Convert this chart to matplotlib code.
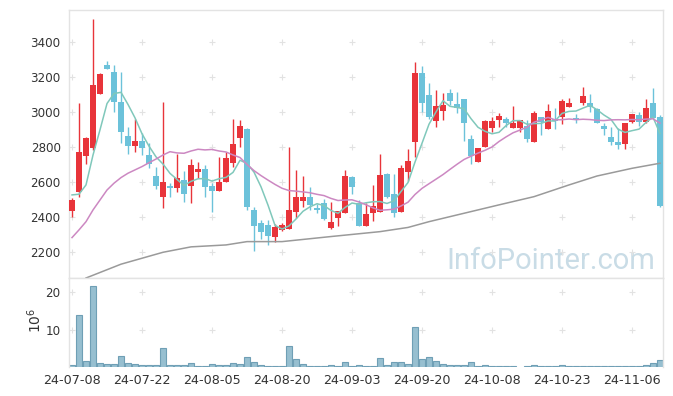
import matplotlib
matplotlib.use('Agg')
import matplotlib.pyplot as plt
from matplotlib import font_manager
import numpy as np

# ---------------- data ----------------
opens = [2436, 2545, 2750, 2796, 3105, 3269, 3229, 3055, 2863, 2807,
         2834, 2754, 2634, 2516, 2575, 2567, 2611, 2579, 2659, 2674,
         2577, 2550, 2598, 2710, 2853, 2903, 2440, 2364, 2354, 2287,
         2326, 2330, 2430, 2493, 2516, 2451, 2478, 2339, 2396, 2425,
         2630, 2478, 2350, 2421, 2430, 2646, 2531, 2430, 2659, 2830,
         3225, 3097, 2950, 3007, 3110, 3046, 3073, 2844, 2716, 2798,
         2907, 2954, 2958, 2910, 2910, 2920, 2830, 2973, 2901, 2960,
         2970, 3030, 2965, 3053, 3053, 3015, 2920, 2855, 2830, 2817,
         2945, 2983, 2945, 3053, 2973]
highs = [2510, 3050, 2859, 3531, 3222, 3291, 3269, 3227, 2916, 2960,
         2878, 2821, 2687, 3055, 2593, 2758, 2665, 2730, 2713, 2697,
         2596, 2741, 2773, 2958, 2954, 2907, 2459, 2383, 2383, 2360,
         2364, 2798, 2669, 2634, 2573, 2474, 2501, 2487, 2434, 2669,
         2635, 2497, 2478, 2583, 2758, 2650, 2646, 2697, 2787, 3287,
         3263, 3164, 3126, 3110, 3130, 3116, 3073, 2869, 2793, 2954,
         2973, 2996, 2973, 3034, 2954, 2954, 3003, 2973, 3046, 3021,
         3073, 3078, 2990, 3141, 3103, 3021, 2935, 2916, 2907, 2935,
         2989, 3002, 3073, 3135, 2980]
lows = [2402, 2516, 2701, 2783, 3105, 3248, 2998, 2821, 2758, 2770,
        2754, 2678, 2560, 2453, 2516, 2541, 2484, 2478, 2621, 2516,
        2430, 2550, 2598, 2687, 2802, 2440, 2206, 2273, 2240, 2259,
        2320, 2330, 2393, 2455, 2440, 2421, 2383, 2330, 2349, 2425,
        2531, 2350, 2350, 2379, 2430, 2510, 2402, 2430, 2607, 2745,
        3002, 2958, 2913, 2954, 3040, 2993, 2836, 2703, 2716, 2798,
        2887, 2916, 2916, 2907, 2887, 2830, 2830, 2869, 2901, 2901,
        2931, 3030, 2935, 3040, 3002, 2939, 2869, 2811, 2787, 2787,
        2939, 2920, 2939, 2964, 2455]
closes = [2497, 2773, 2850, 3154, 3217, 3248, 3059, 2884, 2807, 2834,
          2793, 2705, 2579, 2600, 2568, 2621, 2531, 2697, 2674, 2573,
          2550, 2598, 2735, 2817, 2920, 2459, 2350, 2316, 2293, 2341,
          2354, 2440, 2513, 2514, 2469, 2442, 2387, 2373, 2434, 2634,
          2570, 2350, 2417, 2463, 2640, 2516, 2425, 2682, 2720, 3225,
          3053, 2970, 3034, 3040, 3065, 3021, 2935, 2749, 2793, 2950,
          2950, 2977, 2939, 2935, 2954, 2844, 2996, 2945, 3006, 2950,
          3063, 3053, 2955, 3091, 3027, 2939, 2901, 2830, 2811, 2935,
          2989, 2945, 3021, 2964, 2463]
volume_m = [0.7, 13.9, 1.8, 21.7, 1.3, 1.05, 1.05, 3.2, 1.3, 1.05,
            0.8, 0.8, 0.8, 5.3, 0.8, 0.8, 0.8, 1.3, 0.5, 0.5,
            1.05, 0.8, 0.8, 1.3, 1.05, 2.9, 1.65, 0.8, 0.5, 0.5,
            0.5, 5.8, 2.4, 1.05, 0.5, 0.5, 0.5, 0.8, 0.5, 1.6,
            0.5, 0.8, 0.5, 0.5, 2.6, 0.8, 1.6, 1.6, 1.05, 10.8,
            2.4, 2.9, 1.8, 1.05, 0.8, 0.8, 0.8, 1.6, 0.5, 0.8,
            0.5, 0.5, 0.5, 0.5, 0.0, 0.5, 0.8, 0.5, 0.5, 0.5,
            0.8, 0.5, 0.5, 0.5, 0.5, 0.5, 0.5, 0.5, 0.5, 0.5,
            0.5, 0.5, 0.8, 1.3, 2.1]

# moving-average values before enough in-window history exists
ma5_head = [2526, 2530, 2583, 2754]
ma20_head = [2282, 2326, 2373, 2440, 2497, 2554, 2593, 2625, 2650, 2669,
             2688, 2710, 2731, 2754, 2773, 2766, 2764, 2777, 2787]
ma60_idx = [2, 7, 13, 17, 22, 25, 30, 37, 44, 48, 51, 56, 61, 66, 71, 75, 80, 84]
ma60_val = [2051, 2130, 2198, 2229, 2240, 2259, 2259, 2288, 2316, 2340,
            2373, 2421, 2469, 2516, 2583, 2634, 2678, 2707]

tick_labels = ['24-07-08', '24-07-22', '24-08-05', '24-08-20', '24-09-03',
               '24-09-20', '24-10-08', '24-10-23', '24-11-06']
price_ticks = [2200, 2400, 2600, 2800, 3000, 3200, 3400]
vol_ticks = [10, 20]

# ---------------- styling ----------------
RED = '#e8343a'
BLUE = '#6cc2da'
MA5_C = '#80c8bb'
MA20_C = '#cc88c2'
MA60_C = '#9a9a9a'
VOL_FACE = '#97bfd0'
VOL_EDGE = '#6f9fb5'
FRAME = '#e3e3e3'
TXT = '#333333'

installed = {f.name for f in font_manager.fontManager.ttflist}
WM_FONT = 'Liberation Sans Narrow' if 'Liberation Sans Narrow' in installed else 'Roboto'
WM_SIZE = 27 if WM_FONT == 'Liberation Sans Narrow' else 21

o = np.array(opens, float); h = np.array(highs, float)
l = np.array(lows, float); c = np.array(closes, float)
n = len(c)
x = np.arange(n)

ma5 = list(ma5_head) + [c[i-4:i+1].mean() for i in range(4, n)]
ma20 = list(ma20_head) + [c[i-19:i+1].mean() for i in range(19, n)]

W, H = 673, 396
fig = plt.figure(figsize=(W/100, H/100), dpi=100)
ax = fig.add_axes([69/W, (H-278)/H, 594/W, 268/H])
axv = fig.add_axes([69/W, (H-367)/H, 594/W, 89/H], sharex=ax)

# watermark
ax.text((655-69)/594, (278-269)/268, 'InfoPointer.com', transform=ax.transAxes,
        ha='right', va='baseline', fontsize=WM_SIZE, color='#c9dce6',
        family=WM_FONT, zorder=0)

# grid "+" markers
gx = np.arange(0, n, 10)
for yy in price_ticks:
    ax.plot(gx, [yy]*len(gx), ls='none', marker='+', ms=5, mew=0.8, color='#e2e2e2', zorder=0)
for yy in vol_ticks:
    axv.plot(gx, [yy]*len(gx), ls='none', marker='+', ms=5, mew=0.8, color='#e2e2e2', zorder=0)

# candles
cols = np.where(c >= o, RED, BLUE)
ax.vlines(x, l, h, colors=cols, lw=1.0, zorder=2)
body = np.maximum(np.abs(c - o), 6)
ax.bar(x, body, bottom=np.minimum(o, c), width=0.72, color=cols, linewidth=0, zorder=3)

# moving averages
ax.plot(x, ma5, color=MA5_C, lw=1.1, zorder=4)
ax.plot(x, ma20, color=MA20_C, lw=1.1, zorder=4)
ax.plot(ma60_idx, ma60_val, color=MA60_C, lw=1.1, zorder=4)

ax.set_xlim(-0.43, 84.43)
ax.set_ylim(2051, 3583)
ax.set_yticks(price_ticks)
ax.set_yticklabels([str(v) for v in price_ticks])

# volume
axv.bar(x, volume_m, width=0.85, color=VOL_FACE, edgecolor=VOL_EDGE, linewidth=0.8)
axv.set_ylim(0.25, 23.7)
axv.set_yticks(vol_ticks)
axv.set_yticklabels([str(v) for v in vol_ticks])
axv.set_xticks(gx)
axv.set_xticklabels(tick_labels)
fig.text(35/W, 1 - 320/H, r'$10^6$', rotation=90, ha='center', va='center',
         fontsize=10, color=TXT)

for a in (ax, axv):
    for s in a.spines.values():
        s.set_color(FRAME)
        s.set_linewidth(1.0)
    a.tick_params(length=0, colors=TXT, labelsize=8.6, pad=6)
    a.set_facecolor('white')
ax.tick_params(axis='x', labelbottom=False)
axv.tick_params(axis='x', labelsize=9.2, pad=5)
axv.spines['bottom'].set_visible(False)

fig.savefig('out.png', dpi=100)
